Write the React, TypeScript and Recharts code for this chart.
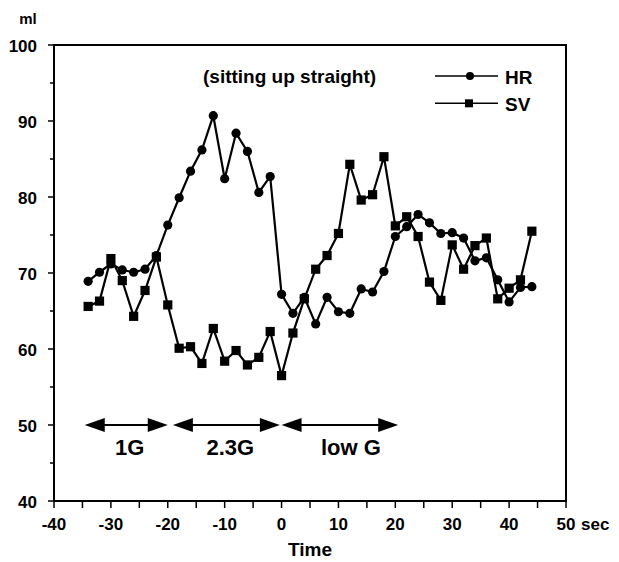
import React from 'react';
import { LineChart, Line, XAxis, YAxis, ReferenceArea, ReferenceLine, Legend } from 'recharts';

const TIME = [-34, -32, -30, -28, -26, -24, -22, -20, -18, -16, -14, -12, -10, -8, -6, -4, -2, 0, 2, 4, 6, 8, 10, 12, 14, 16, 18, 20, 22, 24, 26, 28, 30, 32, 34, 36, 38, 40, 42, 44];
const HR = [68.9, 70.1, 71.2, 70.4, 70.1, 70.5, 72.3, 76.3, 79.9, 83.4, 86.2, 90.7, 82.4, 88.4, 86.0, 80.6, 82.7, 67.2, 64.7, 66.8, 63.3, 66.8, 64.9, 64.7, 67.9, 67.5, 70.2, 74.8, 76.1, 77.7, 76.6, 75.2, 75.3, 74.6, 71.6, 72.0, 69.1, 66.2, 68.1, 68.2];
const SV = [65.6, 66.3, 71.9, 69.0, 64.3, 67.7, 72.1, 65.8, 60.1, 60.3, 58.1, 62.7, 58.4, 59.8, 57.9, 58.9, 62.3, 56.5, 62.1, 66.6, 70.5, 72.3, 75.2, 84.3, 79.6, 80.3, 85.3, 76.2, 77.4, 74.8, 68.8, 66.4, 73.7, 70.5, 73.6, 74.6, 66.6, 68.0, 69.1, 75.5];

const X_TICKS = [-40, -35, -30, -25, -20, -15, -10, -5, 0, 5, 10, 15, 20, 25, 30, 35, 40, 45, 50];
const Y_TICKS = [40, 45, 50, 55, 60, 65, 70, 75, 80, 85, 90, 95, 100];

const PHASE_LABELS = ['1G', '2.3G', 'low G'];
const PHASE_START = [-34.6, -19.1, 0.0];
const PHASE_END = [-20.0, -0.3, 20.5];
const PHASE_LABEL_X = [-26.7, -9.0, 12.2];
const PHASE_LEVEL = 50;

const data = TIME.map((t, i) => ({ t, HR: HR[i], SV: SV[i] }));

const FONT = '"Liberation Sans", Arial, Helvetica, sans-serif';

const XTick = (props: any) => {
  const { x, y, payload } = props;
  const v = payload.value;
  const major = v % 10 === 0;
  return (
    <g>
      <line x1={x} x2={x} y1={y} y2={y + 7} stroke="#000" strokeWidth={1.5} />
      {major && (
        <text x={x} y={y + 29} textAnchor="middle" fontFamily={FONT} fontWeight="bold" fontSize={17} fill="#000">
          {String(v)}
        </text>
      )}
      {v === 50 && (
        <text x={x + 15} y={y + 29} textAnchor="start" fontFamily={FONT} fontWeight="bold" fontSize={17} fill="#000">
          sec
        </text>
      )}
    </g>
  );
};

const YTick = (props: any) => {
  const { x, y, payload } = props;
  const v = payload.value;
  const major = v % 10 === 0;
  return (
    <g>
      <line x1={x} x2={x - (major ? 6 : 4)} y1={y} y2={y} stroke="#000" strokeWidth={1.5} />
      {major && (
        <text x={x - 17} y={y + 6.5} textAnchor="end" fontFamily={FONT} fontWeight="bold" fontSize={17} fill="#000">
          {String(v)}
        </text>
      )}
      {v === 100 && (
        <text x={x - 26} y={y - 21} textAnchor="middle" fontFamily={FONT} fontWeight="bold" fontSize={15} fill="#000">
          ml
        </text>
      )}
    </g>
  );
};

const CircleDot = (props: any) => {
  const { cx, cy } = props;
  if (cx == null || cy == null) return null;
  return <circle cx={cx} cy={cy} r={4.6} fill="#000" />;
};

const SquareDot = (props: any) => {
  const { cx, cy } = props;
  if (cx == null || cy == null) return null;
  return <rect x={cx - 4.6} y={cy - 4.6} width={9.2} height={9.2} fill="#000" />;
};

const ArrowShape = (p: any) => {
  const { x1, y1, x2 } = p;
  const y = y1;
  const L = 20;
  const H = 7;
  return (
    <g>
      <line x1={x1 + L - 2} x2={x2 - L + 2} y1={y} y2={y} stroke="#000" strokeWidth={2} />
      <polygon points={`${x1},${y} ${x1 + L},${y - H} ${x1 + L},${y + H}`} fill="#000" />
      <polygon points={`${x2},${y} ${x2 - L},${y - H} ${x2 - L},${y + H}`} fill="#000" />
    </g>
  );
};

const makeLabelShape = (label: string) => (p: any) => {
  const { x1, y1 } = p;
  return (
    <text x={x1} y={y1 + 30} textAnchor="middle" fontFamily={FONT} fontWeight="bold" fontSize={22} fill="#000">
      {label}
    </text>
  );
};

const LegendContent = (props: any) => {
  const payload = props.payload || [];
  return (
    <svg width={120} height={60} style={{ display: 'block' }}>
      {payload.map((entry: any, i: number) => {
        const y = 14 + i * 27.3;
        const isHR = entry.dataKey === 'HR';
        return (
          <g key={entry.value}>
            <line x1={0} x2={63} y1={y} y2={y} stroke="#000" strokeWidth={1.5} />
            {isHR ? (
              <circle cx={35} cy={y} r={4} fill="#000" />
            ) : (
              <rect x={30} y={y - 4} width={8} height={8} fill="#000" />
            )}
            <text x={70} y={y + 8} fontFamily={FONT} fontWeight="bold" fontSize={19} fill="#000">
              {entry.value}
            </text>
          </g>
        );
      })}
    </svg>
  );
};

export default function App() {
  return (
    <div style={{ position: 'absolute', left: 0, top: 0, width: 619, height: 562, background: '#fff' }}>
      <LineChart width={619} height={562} data={data} margin={{ top: 45, right: 53, bottom: 0, left: 0 }}>
        <XAxis
          dataKey="t"
          type="number"
          domain={[-40, 50]}
          ticks={X_TICKS}
          interval={0}
          tickSize={0}
          tickMargin={0}
          tickLine={false}
          axisLine={{ stroke: '#000', strokeWidth: 2 }}
          tick={<XTick />}
          height={61}
          label={{ value: 'Time', position: 'insideBottom', offset: 6, fill: '#000', fontFamily: FONT, fontWeight: 'bold', fontSize: 19 }}
        />
        <YAxis
          type="number"
          domain={[40, 100]}
          ticks={Y_TICKS}
          interval={0}
          tickSize={0}
          tickMargin={0}
          tickLine={false}
          axisLine={{ stroke: '#000', strokeWidth: 2 }}
          tick={<YTick />}
          width={54}
        />
        <ReferenceArea x1={-40} x2={50} y1={40} y2={100} fill="none" stroke="#000" strokeWidth={2} />
        {PHASE_LABELS.map((lab, i) => (
          <ReferenceLine
            key={'arrow' + lab}
            segment={[{ x: PHASE_START[i], y: PHASE_LEVEL }, { x: PHASE_END[i], y: PHASE_LEVEL }]}
            shape={ArrowShape}
          />
        ))}
        {PHASE_LABELS.map((lab, i) => (
          <ReferenceLine
            key={'label' + lab}
            segment={[{ x: PHASE_LABEL_X[i], y: PHASE_LEVEL }, { x: PHASE_LABEL_X[i], y: PHASE_LEVEL }]}
            shape={makeLabelShape(lab)}
          />
        ))}
        <Line
          dataKey="HR"
          name="HR"
          type="linear"
          stroke="#000"
          strokeWidth={2.2}
          dot={<CircleDot />}
          isAnimationActive={false}
        />
        <Line
          dataKey="SV"
          name="SV"
          type="linear"
          stroke="#000"
          strokeWidth={2.2}
          dot={<SquareDot />}
          isAnimationActive={false}
        />
        <Legend
          layout="vertical"
          align="center"
          verticalAlign="middle"
          content={<LegendContent />}
          wrapperStyle={{ position: 'absolute', left: 435, top: 62, width: 120, height: 60 }}
        />
        <text x={203} y={83} fontFamily={FONT} fontWeight="bold" fontSize={19} fill="#000">
          (sitting up straight)
        </text>
      </LineChart>
    </div>
  );
}
